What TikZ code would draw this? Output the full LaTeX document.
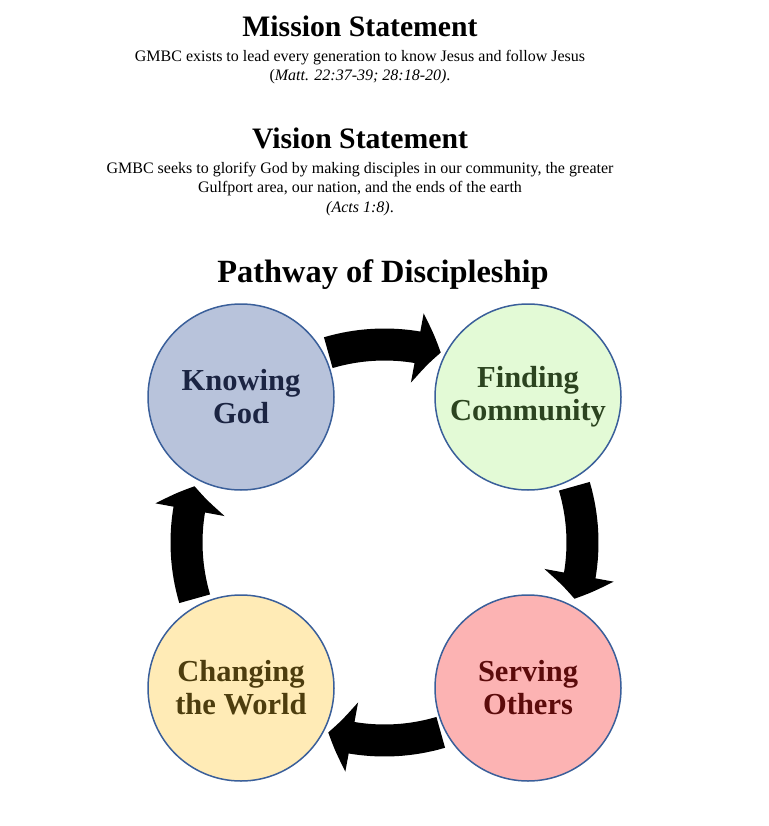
\documentclass[tikz,border=0pt]{standalone}
\usepackage{fontspec}
\setmainfont{Liberation Serif}
\usetikzlibrary{arrows.meta,bending,calc}

\definecolor{ringline}{HTML}{3A5F9A}
\definecolor{knowfill}{HTML}{B8C3DB}
\definecolor{knowtext}{HTML}{1B2442}
\definecolor{findfill}{HTML}{E3FAD6}
\definecolor{findtext}{HTML}{2C4420}
\definecolor{changefill}{HTML}{FFEBB6}
\definecolor{changetext}{HTML}{4D3D0E}
\definecolor{servefill}{HTML}{FCB3B3}
\definecolor{servetext}{HTML}{5C0B0B}

\tikzset{
	heading/.style={anchor=base,font=\bfseries\fontsize{29.7}{33}\selectfont},
	statement/.style={anchor=base,align=center,font=\fontsize{16}{19}\selectfont},
	cyclearrow/.style={line width=32pt,-{Triangle[width=69pt,length=24pt,bend]}}
}

\begin{document}
\begin{tikzpicture}[x=1pt,y=1pt]
			\useasboundingbox (0,0) rectangle (768,-826);
			
			\node[heading]	(mission) at (360, -37)	{Mission Statement};
			\node[statement]	(missiontext) at (360, -81)	{GMBC exists to lead every generation to know Jesus and follow Jesus\\(\textit{Matt. 22:37-39; 28:18-20)}.};
			
			\node[heading]	(vision) at (360, -149)	{Vision Statement};
			\node[statement]	(visiontext) at (360, -212)	{GMBC seeks to glorify God by making disciples in our community, the greater\\Gulfport area, our nation, and the ends of the earth\\\textit{(Acts 1:8)}.};
			
			\node[heading,font=\bfseries\fontsize{32.4}{36}\selectfont]	(pathway) at (383, -282)	{Pathway of Discipleship};
			
			\begin{scope}[every node/.style={circle,draw=ringline,line width=1.5pt,minimum size=186pt,inner sep=0pt,align=center,font=\bfseries\fontsize{30.5}{33}\selectfont}]
			\node[fill=knowfill,text=knowtext]		(know) at (241, -397)	{Knowing\\God};
			\node[fill=findfill,text=findtext]		(find) at (528, -397)	{Finding\\Community};
			
			\node[fill=changefill,text=changetext]	(change) at (241, -688)	{Changing\\the World};
			\node[fill=servefill,text=servetext]	(serve) at (528, -688)	{Serving\\Others};
			\end{scope}
			
			\coordinate (hub) at ($(know)!0.5!(serve)$);
			
			\draw[cyclearrow] ([shift={(106.5:198)}]hub) arc[start angle=106.5, end angle=73.5, radius=198];
			\draw[cyclearrow] ([shift={(16.5:198)}]hub) arc[start angle=16.5, end angle=-16.5, radius=198];
			\draw[cyclearrow] ([shift={(-73.5:198)}]hub) arc[start angle=-73.5, end angle=-106.5, radius=198];
			\draw[cyclearrow] ([shift={(196.5:198)}]hub) arc[start angle=196.5, end angle=163.5, radius=198];
\end{tikzpicture}
\end{document}
